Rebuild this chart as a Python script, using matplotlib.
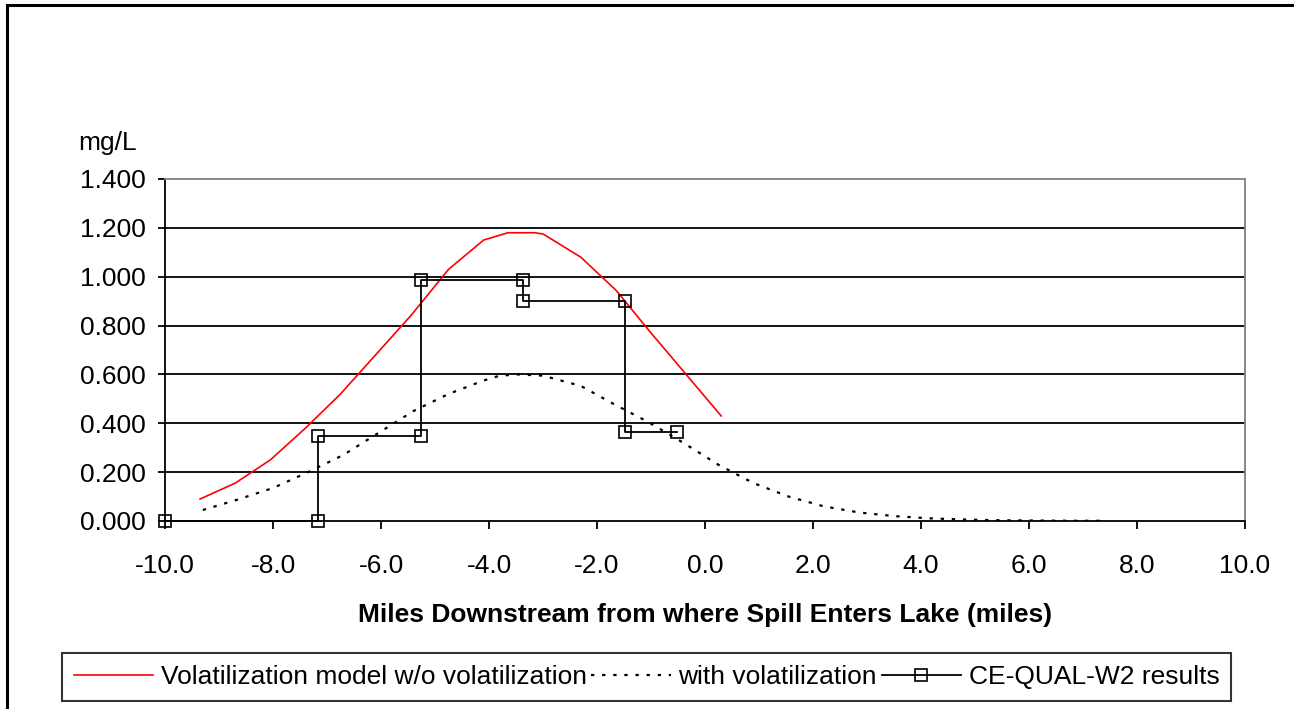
import numpy as np
import matplotlib
matplotlib.use("Agg")
import matplotlib.pyplot as plt
from matplotlib.patches import Rectangle

plt.rcParams['font.family'] = ['Liberation Sans', 'DejaVu Sans']

# model w/o volatilization (red)
x_novol = [-9.35, -8.7, -8.05, -7.4, -6.75, -6.1, -5.45, -4.75, -4.1, -3.95,
           -3.65, -3.15, -3.0, -2.3, -1.65, -1.0, -0.35, 0.3]
y_novol = [0.09, 0.155, 0.25, 0.38, 0.52, 0.68, 0.84, 1.03, 1.15, 1.16,
           1.18, 1.18, 1.175, 1.08, 0.945, 0.77, 0.6, 0.43]

# model with volatilization (dotted)
x_vol = [-9.3, -8.65, -8.0, -7.35, -6.7, -6.05, -5.4, -4.75, -4.1, -3.8,
         -3.45, -3.0, -2.3, -1.7, -1.05, -0.4, 0.25, 0.9, 1.55, 2.2,
         2.85, 3.5, 4.15, 4.8, 5.45, 6.1, 6.75, 7.4]
y_vol = [0.045, 0.088, 0.135, 0.2, 0.27, 0.36, 0.45, 0.52, 0.575, 0.595,
         0.6, 0.595, 0.553, 0.48, 0.405, 0.32, 0.23, 0.155, 0.1, 0.06,
         0.035, 0.02, 0.011, 0.006, 0.003, 0.002, 0.001, 0.001]

# CE-QUAL-W2 results (step)
x_w2 = [-10.0, -7.17, -7.17, -5.26, -5.26, -3.37, -3.37, -1.48, -1.48, -0.52]
y_w2 = [0.0, 0.0, 0.35, 0.35, 0.985, 0.985, 0.9, 0.9, 0.365, 0.365]

xticks = np.arange(-10, 10.1, 2)
yticks = np.arange(0, 1.41, 0.2)

W, H = 1294, 709
fig = plt.figure(figsize=(W / 100, H / 100), dpi=100)
ax = fig.add_axes([165 / W, 1 - 521 / H, 1080 / W, 342 / H])

for yv in yticks[1:-1]:
    ax.axhline(yv, color='black', lw=1.3, zorder=1)

l1, = ax.plot(x_novol, y_novol, color='#ff0000', lw=1.2, zorder=3)
l2, = ax.plot(x_vol, y_vol, color='black', lw=1.6, ls=(0, (1.5, 3.5)), zorder=3)
l3, = ax.plot(x_w2, y_w2, color='black', lw=1.3, marker='s', ms=8.5,
              mfc='none', mec='black', mew=1.2, zorder=4, clip_on=False)

ax.set_xlim(-10, 10)
ax.set_ylim(0, 1.4)
ax.set_xticks(xticks)
ax.set_xticklabels([f"{v:.1f}" for v in xticks])
ax.set_yticks(yticks)
ax.set_yticklabels([f"{v:.3f}" for v in yticks])
ax.tick_params(axis='x', direction='out', length=6, width=1.3, pad=18, labelsize=19)
ax.tick_params(axis='y', direction='out', length=5, width=1.3, pad=9, labelsize=19)

ax.spines['left'].set_color('black')
ax.spines['bottom'].set_color('black')
ax.spines['left'].set_linewidth(1.3)
ax.spines['bottom'].set_linewidth(1.3)
ax.spines['top'].set_color('#808080')
ax.spines['right'].set_color('#808080')
ax.spines['top'].set_linewidth(1.3)
ax.spines['right'].set_linewidth(1.3)

ax.set_xlabel("Miles Downstream from where Spill Enters Lake (miles)",
              fontsize=19, fontweight='bold', labelpad=18)
fig.text(78 / W, 1 - 143 / H, "mg/L", fontsize=19, va='center', ha='left')

leg = fig.legend([l1, l2, l3],
                 ["Volatilization model w/o volatilization", "with volatilization",
                  "CE-QUAL-W2 results"],
                 loc='lower left', bbox_to_anchor=(62 / W, 1 - 701 / H),
                 ncol=3, fontsize=19, frameon=True, fancybox=False,
                 handlelength=3.0, handletextpad=0.3, columnspacing=0.17,
                 borderpad=0.45, borderaxespad=0)
leg.get_frame().set_edgecolor('black')
leg.get_frame().set_linewidth(1.5)

# outer chart frame
fig.patches.append(Rectangle((7 / W, -0.1), 1.2, 1 - 5 / H + 0.1,
                             transform=fig.transFigure, fill=False,
                             edgecolor='black', lw=2.2))

fig.savefig("out.png", dpi=100)
